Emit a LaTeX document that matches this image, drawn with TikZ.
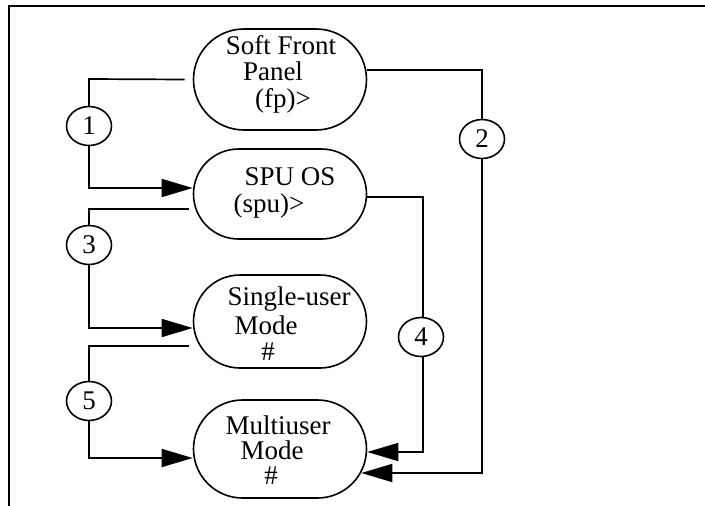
\documentclass[tikz,border=0pt]{standalone}
\usepackage{fontspec}
\setmainfont{Liberation Serif}
\usetikzlibrary{arrows.meta,shapes.misc,shapes.geometric}
\begin{document}
\begin{tikzpicture}[x=1pt,y=-1pt,
  stadium/.style={draw,line width=1.6pt,rounded rectangle,minimum width=173pt,inner sep=0pt},
  lbl/.style={font=\fontsize{27}{27}\selectfont,inner sep=0pt,anchor=base},
  num/.style={draw,line width=1.6pt,ellipse,minimum width=45pt,minimum height=39pt,inner sep=0pt,
              font=\fontsize{27}{27}\selectfont,fill=white},
  conn/.style={line width=1.7pt},
  arr/.style={conn,-{Triangle[length=31pt,width=18pt]}}]
\useasboundingbox (0,0) rectangle (705,506);
% frame
\draw[line width=1.6pt] (9,506) -- (9,6) -- (705,6);
% states
\node[stadium,minimum height=101pt] (fp) at (280,79.5) {};
\node[stadium,minimum height=90pt] (spu) at (280,194) {};
\node[stadium,minimum height=93pt] (su) at (280,321.5) {};
\node[stadium,minimum height=98pt] (mu) at (280,449) {};
% texts
\node[lbl] (t1) at (281,54) {Soft Front};
\node[lbl] (t2) at (273,80) {Panel};
\node[lbl] (t3) at (283,107) {(fp)>};
\node[lbl] (t4) at (290,185) {SPU OS};
\node[lbl] (t5) at (269,212) {(spu)>};
\node[lbl] (t6) at (289,305) {Single-user};
\node[lbl] (t7) at (266,334) {Mode};
\node[lbl] (t8) at (268,360) {\#};
\node[lbl] (t9) at (278,434) {Multiuser};
\node[lbl] (t10) at (272,459) {Mode};
\node[lbl] (t11) at (271,484) {\#};
% bend points
\coordinate (k1) at (89,79);
\coordinate (k2) at (482,70);
\coordinate (k3) at (89,209);
\coordinate (k4) at (423,197);
\coordinate (k5) at (89,346);
% connectors
\draw[conn] ([xshift=-8pt]fp.west) -- (k1) -- (89,126);
\draw[arr] (89,126) |- ([yshift=6pt]spu.west);
\draw[conn] ([yshift=9.5pt]fp.east) -- (k2) -- (482,139);
\draw[arr] (482,139) |- ([xshift=-6pt,yshift=-24pt]mu.east);
\draw[conn] ([xshift=-4pt,yshift=-15pt]spu.west) -- (k3) -- (89,245);
\draw[arr] (89,245) |- ([yshift=-6.5pt]su.west);
\draw[conn] ([yshift=-3pt]spu.east) -- (k4) -- (423,337);
\draw[arr] (423,337) |- ([yshift=-3pt]mu.east);
\draw[conn] ([xshift=-4pt,yshift=-24.5pt]su.west) -- (k5) -- (89,401);
\draw[arr] (89,401) |- ([yshift=-9pt]mu.west);
% numbered circles
\node[num] (n1) at (89,126) {1};
\node[num] (n2) at (482,139) {2};
\node[num] (n3) at (89,245) {3};
\node[num] (n4) at (421,337) {4};
\node[num] (n5) at (89,401) {5};
\end{tikzpicture}
\end{document}
